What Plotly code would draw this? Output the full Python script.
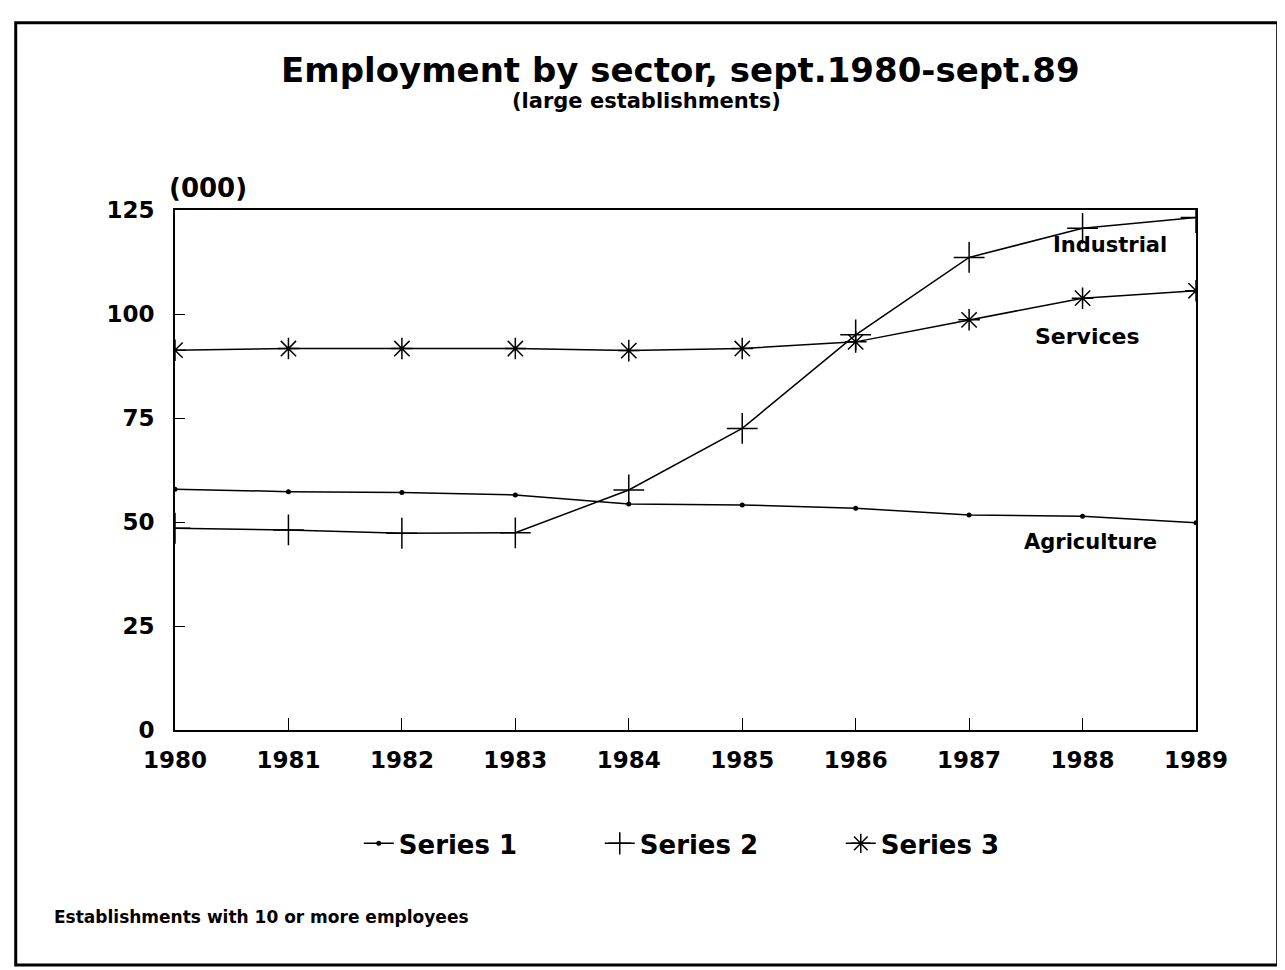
import plotly.graph_objects as go

years = [1980, 1981, 1982, 1983, 1984, 1985, 1986, 1987, 1988, 1989]
agriculture = [57.9, 57.3, 57.1, 56.5, 54.3, 54.1, 53.3, 51.7, 51.4, 49.8]
industrial = [48.5, 48.1, 47.3, 47.4, 57.7, 72.5, 95.0, 113.6, 120.6, 123.2]
services = [91.3, 91.7, 91.7, 91.7, 91.2, 91.7, 93.3, 98.6, 103.8, 105.6]
series_names = ["Series 1", "Series 2", "Series 3"]
y_ticks = [0, 25, 50, 75, 100, 125]

FONT = "DejaVu Sans, Liberation Sans, Arial, sans-serif"

fig = go.Figure()
fig.add_trace(go.Scatter(x=years, y=agriculture, name=series_names[0], mode="lines+markers",
                         line=dict(color="black", width=1.5),
                         marker=dict(symbol="circle", size=5, color="black")))
fig.add_trace(go.Scatter(x=years, y=industrial, name=series_names[1], mode="lines+markers",
                         line=dict(color="black", width=1.5),
                         marker=dict(symbol="cross-thin-open", size=22, color="black",
                                     line=dict(color="black", width=1.5))))
fig.add_trace(go.Scatter(x=years, y=services, name=series_names[2], mode="lines+markers",
                         line=dict(color="black", width=1.5),
                         marker=dict(symbol="asterisk-open", size=18, color="black",
                                     line=dict(color="black", width=1.5))))

# page body has an 8px margin; plot area lands at page x 175-1196, y 210-730
fig.update_layout(
    width=1277, height=962,
    margin=dict(l=167, r=89, t=202, b=240),
    paper_bgcolor="white", plot_bgcolor="white",
    font=dict(family=FONT, color="black"),
    showlegend=True,
    legend=dict(orientation="h", x=0.18, xanchor="left", y=-0.173, yanchor="top",
                font=dict(size=26, family=FONT, weight="bold"), entrywidth=196,
                entrywidthmode="pixels", bgcolor="rgba(0,0,0,0)"),
)

fig.update_xaxes(range=[1980, 1989], tickvals=years, ticktext=[f"<b>{y}</b>" for y in years],
                 tickfont=dict(size=23, family=FONT), ticks="inside", ticklen=12,
                 tickcolor="black", showline=True, linecolor="black", linewidth=2,
                 mirror=True, showgrid=False, zeroline=False, ticklabelstandoff=8)
fig.update_yaxes(range=[0, 125], tickvals=y_ticks, ticktext=[f"<b>{v}</b>" for v in y_ticks],
                 tickfont=dict(size=23, family=FONT), ticks="inside", ticklen=10,
                 tickcolor="black", showline=True, linecolor="black", linewidth=2,
                 mirror=True, showgrid=False, zeroline=False, ticklabelstandoff=14)

annots = [
    dict(text="<b>Employment by sector, sept.1980-sept.89</b>", x=0.495, y=1.269,
         xref="paper", yref="paper", xanchor="center", yanchor="middle", font=dict(size=34)),
    dict(text="<b>(large establishments)</b>", x=0.462, y=1.21,
         xref="paper", yref="paper", xanchor="center", yanchor="middle", font=dict(size=21)),
    dict(text="<b>(000)</b>", x=1980, y=125, xref="x", yref="y", xanchor="left", yanchor="bottom",
         yshift=5, xshift=-8, font=dict(size=26)),
    dict(text="<b>Industrial</b>", x=1988.245, y=116.6, xref="x", yref="y", xanchor="center",
         yanchor="middle", font=dict(size=21)),
    dict(text="<b>Services</b>", x=1988.04, y=94.5, xref="x", yref="y", xanchor="center",
         yanchor="middle", font=dict(size=22)),
    dict(text="<b>Agriculture</b>", x=1988.07, y=45.1, xref="x", yref="y", xanchor="center",
         yanchor="middle", font=dict(size=21)),
    dict(text="<b>Establishments with 10 or more employees</b>", x=-0.12, y=-0.36,
         xref="paper", yref="paper", xanchor="left", yanchor="middle", font=dict(size=17)),
]
for a in annots:
    a["showarrow"] = False
    a["font"]["family"] = FONT
    a["font"]["color"] = "black"
fig.update_layout(annotations=annots)

fig.add_shape(type="rect", xref="paper", yref="paper", x0=-0.156, x1=1.08, y0=-0.452, y1=1.36,
              line=dict(color="black", width=3))

fig.write_html("out.html")
